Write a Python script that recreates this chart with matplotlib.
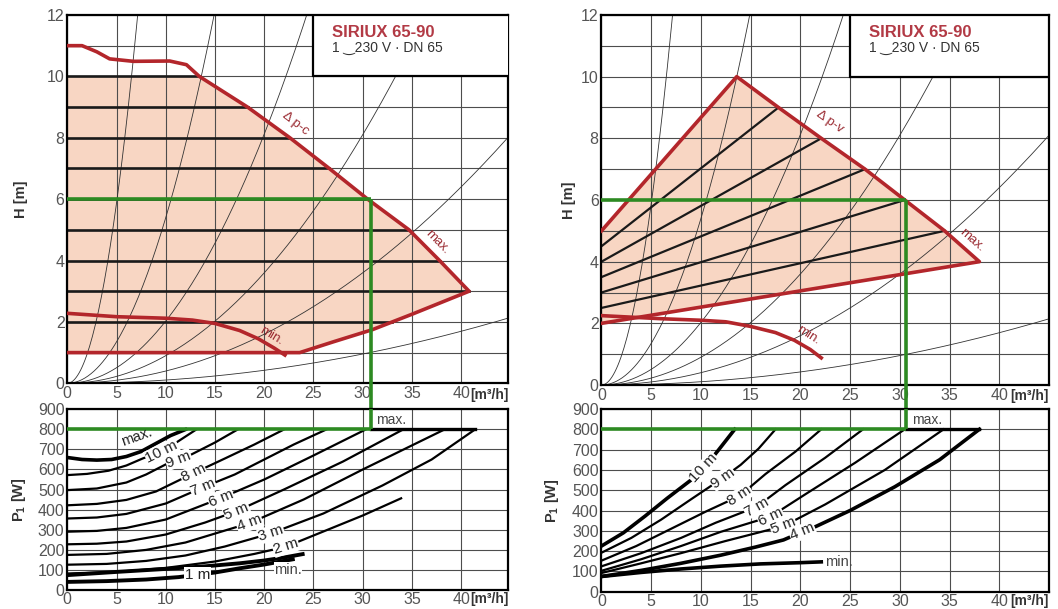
import numpy as np
import matplotlib.pyplot as plt
from matplotlib.patches import Rectangle, Polygon

plt.rcParams['font.family'] = ['Liberation Sans', 'DejaVu Sans']

# ---------------- data ----------------
q_ticks = [0, 5, 10, 15, 20, 25, 30, 35, 40]
h_ticks = [0, 2, 4, 6, 8, 10, 12]
p_ticks = [0, 100, 200, 300, 400, 500, 600, 700, 800, 900]
system_k = [0.235, 0.054, 0.0203, 0.0090, 0.0040, 0.00106]

title = "SIRIUX 65-90"
subtitle = "1 \u203f230 V \u00b7 DN 65"

# left: constant pressure (delta p-c)
lc_max_q = [0, 1.5, 3, 4.3, 6.7, 10.4, 12.1, 13.4, 18.3, 22.6, 26.6, 30.5, 34.7, 37.8, 40.8]
lc_max_h = [11, 11, 10.8, 10.57, 10.49, 10.5, 10.38, 10.0, 9, 8, 7, 6, 5, 4, 3]
lc_low_q = [0, 23.6, 27, 31, 35, 40.8]
lc_low_h = [1, 1, 1.35, 1.75, 2.25, 3.0]
lc_min_q = [0, 5, 10, 12.7, 15, 17.5, 19.4, 21, 22.1]
lc_min_h = [2.28, 2.17, 2.12, 2.06, 1.95, 1.72, 1.45, 1.15, 0.92]
lc_levels = [2, 3, 4, 5, 6, 7, 8, 9, 10]
lc_duty_q, lc_duty_h, duty_p = 30.8, 6, 800

# right: variable pressure (delta p-v)
rv_left_q = [0, 13.6]
rv_left_h = [5, 10]
rv_max_q = [13.6, 17.8, 22.1, 26.5, 30.5, 34.5, 38.0]
rv_max_h = [10, 9, 8, 7, 6, 5, 4]
rv_low_q = [0, 38.0]
rv_low_h = [2.0, 4.0]
rv_min_q = [0, 3, 6, 10, 12.5, 15, 17.5, 19.4, 21, 22.1]
rv_min_h = [2.25, 2.2, 2.15, 2.1, 2.05, 1.9, 1.7, 1.45, 1.15, 0.88]
rv_levels = [5, 6, 7, 8, 9]
rv_level_start = [2.5, 3.0, 3.5, 4.0, 4.5]
rv_duty_q = 30.6

# left power curves
lp_max_q = [0, 1.5, 3, 4.5, 6, 7.5, 9, 10.5, 12]
lp_max_p = [660, 650, 647, 650, 665, 690, 730, 770, 800]
lp_10_q = [0, 2, 4.2, 6, 7.7, 9.6, 11.2, 13.1]
lp_10_p = [572, 578, 594, 620, 656, 690, 739, 800]
lp_9_q = [0, 3, 6, 8, 10.1, 11.3, 12.6, 15, 17.3]
lp_9_p = [497, 505, 535, 575, 628, 651, 675, 735, 800]
lp_8_q = [0, 3, 6, 9, 12.8, 16, 19, 22]
lp_8_p = [421, 428, 448, 490, 581, 655, 725, 800]
lp_7_q = [0, 3, 6, 10, 13.8, 17, 20, 23, 26.3]
lp_7_p = [355, 360, 378, 430, 511, 575, 650, 725, 800]
lp_6_q = [0, 3, 6, 10, 15.6, 20, 25, 30.3]
lp_6_p = [289, 293, 308, 350, 457, 550, 670, 800]
lp_5_q = [0, 3, 6, 10, 14, 17.2, 22, 28, 34.1]
lp_5_p = [226, 229, 240, 275, 335, 392, 500, 640, 800]
lp_4_q = [0, 4, 8, 12, 18.5, 24, 30, 38.3]
lp_4_p = [173, 178, 198, 235, 332, 450, 600, 800]
lp_3_q = [0, 4, 8, 12, 16, 20.7, 26, 32, 37, 41.4]
lp_3_p = [124, 128, 143, 170, 215, 281, 380, 520, 650, 800]
lp_2_q = [0, 5, 10, 15, 19, 22.2, 26, 30, 33.9]
lp_2_p = [80, 88, 108, 140, 178, 214, 290, 370, 456]
lp_min_q = [0, 5, 10, 14, 17.5, 20, 22, 23.9]
lp_min_p = [72, 88, 103, 116, 131, 145, 160, 177]
lp_1_q = [0, 4, 8, 11.3, 13.2, 15, 17.5, 20, 22.9]
lp_1_p = [38, 42, 50, 62, 74, 85, 106, 125, 151]

# right power curves
rp_10_q = [0, 2.2, 4.4, 6.6, 9.0, 10.3, 11.8, 13.4]
rp_10_p = [225, 290, 373, 460, 550, 608, 700, 800]
rp_9_q = [0, 3, 6, 9, 12.2, 14.0, 15.8, 17.5]
rp_9_p = [192, 265, 355, 455, 560, 625, 705, 800]
rp_8_q = [0, 3.5, 7, 10.5, 13.9, 16.5, 19.5, 22.1]
rp_8_p = [153, 225, 310, 395, 472, 580, 690, 800]
rp_7_q = [0, 4, 8, 11.5, 15.6, 18.5, 22.5, 26.3]
rp_7_p = [125, 190, 265, 340, 418, 525, 660, 800]
rp_6_q = [0, 4, 8, 12, 17.0, 20.5, 25.5, 30.5]
rp_6_p = [103, 160, 225, 295, 370, 480, 635, 800]
rp_5_q = [0, 4, 8, 12.5, 18.3, 22.5, 28.5, 34.4]
rp_5_p = [92, 140, 190, 250, 323, 430, 600, 800]
rp_4_q = [0, 4, 8, 12, 15.5, 18.3, 20.2, 21.5, 25, 29.5, 34, 38]
rp_4_p = [75, 105, 140, 180, 220, 255, 295, 320, 400, 517, 650, 800]
rp_min_q = [0, 4, 8, 12, 16, 20, 22.1]
rp_min_p = [75, 95, 112, 126, 137, 143, 147]

RED = '#b3262b'
DRED = '#9b2c33'
FILL = '#f8d6c3'
GREEN = '#2d8a22'
GRID = '#4d4d4d'


def setup(ax, ymax, yt, ymin_t):
    ax.set_xlim(0, 44.8)
    ax.set_ylim(0, ymax)
    ax.set_xticks(q_ticks)
    ax.set_yticks(yt)
    ax.set_yticks(ymin_t, minor=True)
    ax.set_axisbelow(True)
    ax.grid(which='both', color=GRID, lw=0.8)
    ax.tick_params(which='both', length=0, labelsize=11.5, labelcolor='#555555', pad=2)
    for s in ax.spines.values():
        s.set_linewidth(1.6)
    ax.text(1.0, -0.012, "[m\u00b3/h]", transform=ax.transAxes, ha='right', va='top',
            fontsize=10, weight='bold', color='#333333')


def angle(ax, qs, ps, q):
    a = ax.transData.transform([(q - 0.6, np.interp(q - 0.6, qs, ps)),
                                (q + 0.6, np.interp(q + 0.6, qs, ps))])
    return np.degrees(np.arctan2(a[1, 1] - a[0, 1], a[1, 0] - a[0, 0]))


def curve_label(ax, qs, ps, q, text, rot=None):
    r = angle(ax, qs, ps, q) if rot is None else rot
    ax.text(q, np.interp(q, qs, ps), text, rotation=r, rotation_mode='anchor',
            ha='center', va='center', fontsize=11, color='#222222', zorder=6,
            bbox=dict(fc='white', ec='none', pad=0.4))


def side_label(ax, qs, hs, q, h, text):
    ax.text(q, h, text, rotation=angle(ax, qs, hs, q), rotation_mode='anchor',
            ha='center', va='center', fontsize=9.5, color=DRED, zorder=6)


def top_common(ax, duty_q):
    q = np.linspace(0, 45, 300)
    for k in system_k:
        ax.plot(q, k * q ** 2, color='#333333', lw=0.6, zorder=1.5)
    ax.add_patch(Rectangle((25, 10), 20, 2, fc='white', ec='black', lw=1.6, zorder=7,
                           clip_on=True))
    ax.text(26.9, 11.42, title, color='#b23a45', fontsize=12, weight='bold',
            va='center', ha='left', zorder=8)
    ax.text(26.9, 10.92, subtitle, color='#333333', fontsize=10,
            va='center', ha='left', zorder=8)
    ax.plot([0, duty_q], [lc_duty_h, lc_duty_h], color=GREEN, lw=2.6, zorder=5,
            solid_capstyle='butt')
    ax.plot([duty_q, duty_q], [lc_duty_h, -1.2], color=GREEN, lw=2.6, zorder=5,
            clip_on=False, solid_capstyle='butt')
    ax.set_ylabel("H [m]", fontsize=10.5, weight='bold', color='#333333')


def bottom_common(ax, duty_q, max_end):
    ax.plot([0, duty_q], [duty_p, duty_p], color=GREEN, lw=2.6, zorder=5,
            solid_capstyle='butt')
    ax.plot([duty_q, duty_q], [duty_p, 900], color=GREEN, lw=2.6, zorder=5,
            solid_capstyle='butt')
    ax.plot([duty_q, max_end], [duty_p, duty_p], color='black', lw=2.4, zorder=4)
    ax.text(duty_q + 0.6, 848, "max.", fontsize=10, color='#444444', va='center',
            ha='left', zorder=6, bbox=dict(fc='white', ec='none', pad=0.2))
    ax.set_ylabel("P$_\\mathregular{1}$ [W]", fontsize=10.5, weight='bold', color='#333333')


fig = plt.figure(figsize=(10.58, 6.09), dpi=100)
ax1 = fig.add_axes([0.0636, 0.3706, 0.4170, 0.6048])
ax2 = fig.add_axes([0.0636, 0.0320, 0.4170, 0.2956])
ax3 = fig.add_axes([0.5685, 0.3678, 0.4230, 0.6076])
ax4 = fig.add_axes([0.5685, 0.0284, 0.4230, 0.3000])

for ax in (ax1, ax3):
    setup(ax, 12, h_ticks, range(13))
for ax in (ax2, ax4):
    setup(ax, 900, p_ticks, p_ticks)
ax3.set_xlim(0, 45)
ax4.set_xlim(0, 45)

# ---- left top ----
i10 = lc_max_h.index(10)
top_q = list(lc_max_q[i10:])
top_h = list(lc_max_h[i10:])
poly = [(0, lc_low_h[0]), (0, 10)] + list(zip(top_q, top_h)) + \
    list(zip(lc_low_q[::-1], lc_low_h[::-1]))
ax1.add_patch(Polygon(poly, closed=True, fc=FILL, ec='none', zorder=0.2))
for h in lc_levels:
    if h >= top_h[-1]:
        qe = np.interp(h, top_h[::-1], top_q[::-1])
    else:
        qe = np.interp(h, lc_low_h[1:], lc_low_q[1:])
    ax1.plot([0, qe], [h, h], color='#1a1a1a', lw=1.9, zorder=2)
ax1.plot(lc_max_q + lc_low_q[::-1], lc_max_h + lc_low_h[::-1], color=RED, lw=2.6,
         zorder=3, solid_joinstyle='round')
ax1.plot(lc_min_q, lc_min_h, color=RED, lw=2.6, zorder=3)
top_common(ax1, lc_duty_q)
side_label(ax1, lc_max_q, lc_max_h, 23.2, 8.45, "\u0394 p-c")
side_label(ax1, lc_max_q, lc_max_h, 37.6, 4.6, "max.")
side_label(ax1, lc_min_q, lc_min_h, 20.7, 1.55, "min.")
ax1.yaxis.set_label_coords(-0.09, 0.5)

# ---- right top ----
tri = list(zip(rv_left_q, rv_left_h)) + list(zip(rv_max_q[1:], rv_max_h[1:])) + \
    [(rv_low_q[0], rv_low_h[0])]
ax3.add_patch(Polygon(tri, closed=True, fc=FILL, ec='none', zorder=0.2))
for h, h0 in zip(rv_levels, rv_level_start):
    qe = np.interp(h, rv_max_h[::-1], rv_max_q[::-1])
    ax3.plot([0, qe], [h0, h], color='#1a1a1a', lw=1.6, zorder=2)
ax3.plot(rv_left_q + rv_max_q[1:] + rv_low_q[::-1],
         rv_left_h + rv_max_h[1:] + rv_low_h[::-1], color=RED, lw=2.6, zorder=3,
         solid_joinstyle='round')
ax3.plot(rv_min_q, rv_min_h, color=RED, lw=2.6, zorder=3)
top_common(ax3, rv_duty_q)
side_label(ax3, rv_max_q, rv_max_h, 23.0, 8.55, "\u0394 p-v")
side_label(ax3, rv_max_q, rv_max_h, 37.2, 4.7, "max.")
side_label(ax3, rv_min_q, rv_min_h, 20.8, 1.6, "min.")
ax3.yaxis.set_label_coords(-0.058, 0.5)

# ---- left bottom ----
left_curves = [
    (lp_max_q, lp_max_p, None, None, 2.6),
    (lp_10_q, lp_10_p, 9.6, "10 m", 1.6),
    (lp_9_q, lp_9_p, 11.3, "9 m", 1.6),
    (lp_8_q, lp_8_p, 12.8, "8 m", 1.6),
    (lp_7_q, lp_7_p, 13.8, "7 m", 1.6),
    (lp_6_q, lp_6_p, 15.6, "6 m", 1.6),
    (lp_5_q, lp_5_p, 17.2, "5 m", 1.6),
    (lp_4_q, lp_4_p, 18.5, "4 m", 1.6),
    (lp_3_q, lp_3_p, 20.7, "3 m", 1.6),
    (lp_2_q, lp_2_p, 22.2, "2 m", 1.6),
    (lp_min_q, lp_min_p, None, None, 2.8),
    (lp_1_q, lp_1_p, 13.2, "1 m", 2.8),
]
for qs, ps, lq, txt, lw in left_curves:
    ax2.plot(qs, ps, color='black', lw=lw, zorder=3)
    if txt:
        curve_label(ax2, qs, ps, lq, txt, rot=0 if txt == "1 m" else None)
ax2.text(7.0, 762, "max.", rotation=angle(ax2, lp_max_q, lp_max_p, 7.0),
         rotation_mode='anchor', ha='center', va='center', fontsize=10.5, color='#222222',
         zorder=6)
ax2.text(22.4, 100, "min.", ha='center', va='center', fontsize=10.5, color='#444444',
         zorder=6, bbox=dict(fc='white', ec='none', pad=0.3))
bottom_common(ax2, lc_duty_q, 41.4)
ax2.yaxis.set_label_coords(-0.09, 0.5)

# ---- right bottom ----
right_curves = [
    (rp_10_q, rp_10_p, 10.3, "10 m", 2.6),
    (rp_9_q, rp_9_p, 12.2, "9 m", 1.6),
    (rp_8_q, rp_8_p, 13.9, "8 m", 1.6),
    (rp_7_q, rp_7_p, 15.6, "7 m", 1.6),
    (rp_6_q, rp_6_p, 17.0, "6 m", 1.6),
    (rp_5_q, rp_5_p, 18.3, "5 m", 1.6),
    (rp_4_q, rp_4_p, 20.2, "4 m", 2.6),
    (rp_min_q, rp_min_p, None, None, 2.6),
]
for qs, ps, lq, txt, lw in right_curves:
    ax4.plot(qs, ps, color='black', lw=lw, zorder=3)
    if txt:
        curve_label(ax4, qs, ps, lq, txt)
ax4.text(22.5, rp_min_p[-1], "min.", ha='left', va='center', fontsize=10.5,
         color='#444444', zorder=6)
bottom_common(ax4, rv_duty_q, 38.0)
ax4.yaxis.set_label_coords(-0.09, 0.5)

fig.savefig("out.png", dpi=100)
